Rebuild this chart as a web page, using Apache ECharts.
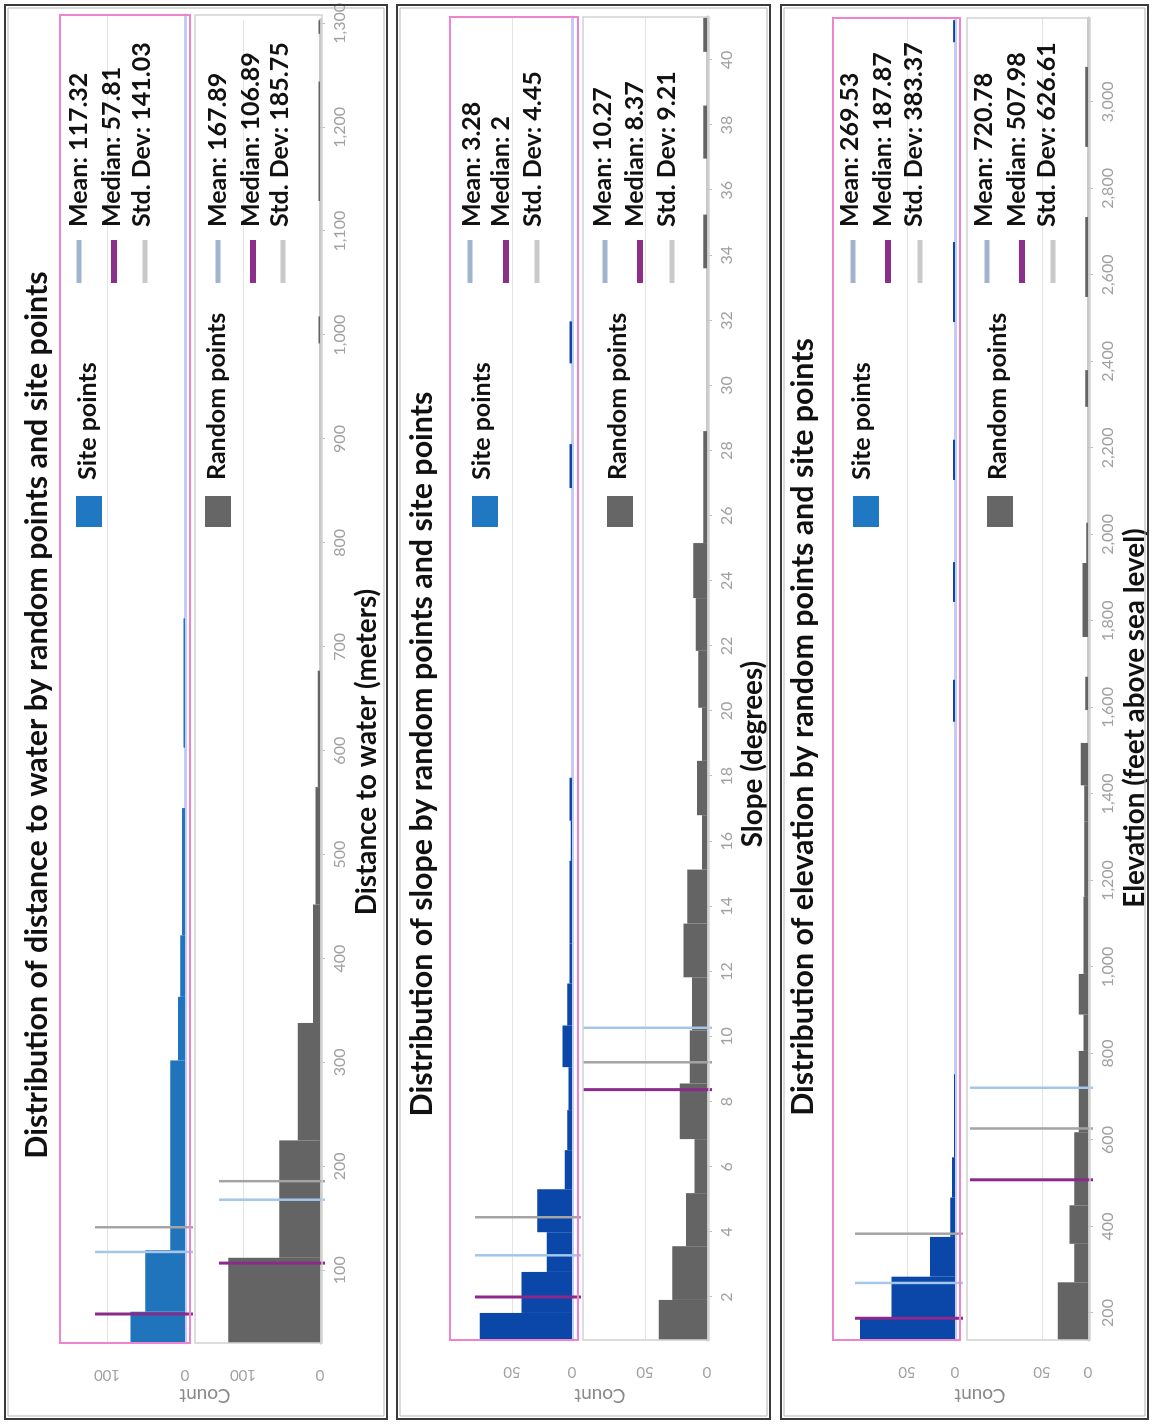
<!DOCTYPE html>
<html>
<head>
<meta charset="utf-8">
<script src="https://cdn.jsdelivr.net/npm/echarts@6/dist/echarts.min.js"></script>
<style>
  html, body { margin: 0; padding: 0; background: #fff; overflow: hidden; width: 1152px; height: 1424px; }
  /* The figure is laid out landscape and turned a quarter turn counter-clockwise onto the portrait page */
  #stage { position: absolute; left: 0; top: 0; width: 1424px; height: 1152px;
           transform-origin: 0 0; transform: translate(0px, 1424px) rotate(-90deg); background: #fff; }
</style>
</head>
<body>
<div id="stage"></div>
<script>
// ---------------- data ----------------
const panelTitles = [
  'Distribution of distance to water by random points and site points',
  'Distribution of slope by random points and site points',
  'Distribution of elevation by random points and site points'
];
const axisNames = ['Distance to water (meters)', 'Slope (degrees)', 'Elevation (feet above sea level)'];
const groupNames = ['Site points', 'Random points'];
const statNames = ['Mean', 'Median', 'Std. Dev'];

// histogram bins: [from, to, count]
const distSiteBins = [[30, 60, 70], [60, 119, 51], [119, 301, 19], [301, 362, 9], [362, 421, 6], [421, 543, 4], [601, 725, 2]];
const distRandBins = [[30, 112, 119], [112, 225, 53], [225, 338, 29], [338, 452, 9], [452, 565, 6], [565, 677, 3],
                      [992, 1018, 2], [1129, 1244, 2], [1290, 1303, 2]];
const distSiteStats = [117.32, 57.81, 141.03];   // mean, median, std. dev
const distRandStats = [167.89, 106.89, 185.75];
const distTicks = [100, 200, 300, 400, 500, 600, 700, 800, 900, 1000, 1100, 1200, 1300];
const distCountTicks = [0, 100];

const slopeSiteBins = [[0.68, 1.51, 77], [1.51, 2.77, 42], [2.77, 3.99, 21], [3.99, 5.31, 29], [5.31, 6.51, 6],
                       [6.51, 7.74, 4], [7.74, 9.06, 3], [9.06, 10.34, 8], [10.34, 11.63, 4], [11.63, 12.86, 2],
                       [12.86, 15.4, 2], [15.4, 16.63, 1], [16.63, 17.95, 2], [26.85, 28.2, 2], [30.68, 31.97, 2]];
const slopeRandBins = [[0.68, 1.91, 39], [1.91, 3.56, 28], [3.56, 5.19, 17], [5.19, 6.85, 10], [6.85, 8.56, 22],
                       [8.56, 10.19, 14], [10.19, 11.82, 12], [11.82, 13.47, 19], [13.47, 15.13, 16], [15.13, 16.8, 4],
                       [16.8, 18.47, 8], [18.47, 20.1, 4], [20.1, 21.85, 7], [21.85, 23.47, 9], [23.47, 25.16, 11],
                       [25.16, 28.6, 3], [33.6, 35.25, 3], [36.97, 38.6, 3], [40.25, 41.3, 3]];
const slopeSiteStats = [3.28, 2, 4.45];
const slopeRandStats = [10.27, 8.37, 9.21];
const slopeTicks = [2, 4, 6, 8, 10, 12, 14, 16, 18, 20, 22, 24, 26, 28, 30, 32, 34, 36, 38, 40];
const slopeCountTicks = [0, 50];

const elevSiteBins = [[137.6, 190.5, 99], [190.5, 284, 66], [284, 376, 26], [376, 467, 5], [467, 560, 3], [560, 752, 1],
                      [1567, 1664, 2], [1844, 1936, 2], [2126, 2219, 2], [2491, 2676, 2], [3138, 3189, 2]];
const elevRandBins = [[137.6, 271, 33], [271, 360, 15], [360, 449, 20], [449, 618, 15], [618, 806, 10], [806, 890, 5],
                      [890, 984, 10], [984, 1162, 5], [1162, 1336, 4], [1336, 1420, 4], [1420, 1518, 8],
                      [1594, 1671, 3], [1763, 1934, 6], [1934, 2027, 2], [2295, 2380, 3], [2549, 2734, 3], [2896, 3081, 3]];
const elevSiteStats = [269.53, 187.87, 383.37];
const elevRandStats = [720.78, 507.98, 626.61];
const elevTicks = [200, 400, 600, 800, 1000, 1200, 1400, 1600, 1800, 2000, 2200, 2400, 2600, 2800, 3000];
const elevCountTicks = [0, 50];

// ---------------- layout (landscape pixels) ----------------
const FONT = 'Lato, "Open Sans", sans-serif';
const STAT_LINE_COLORS = ['#a3c6ea', '#8b2a8b', '#a4a4a4'];
const STAT_LINE_WIDTHS = [2.5, 3, 2.5];
const STAT_SWATCH_COLORS = ['#a0b5cd', '#8b2f8b', '#c9c9c9'];
const STAT_SWATCH_WIDTHS = [5, 6, 5];

const LAYOUT = [
  { box: [5, 5, 1419, 387], title: [709, 37], name: [672, 367], countY: 205,
    plot: [81, 1409], xMin: 30, xMax: 1303.6, siteColor: '#1f74bb',
    site: { top: 60, base: 185, frame: 190, yMax: 160.3, lineTop: 95 },
    rand: { top: 195, base: 320, frame: 322, yMax: 162.3, lineTop: 219 },
    legSite: { sq: 89, text: 88, sw: [79, 114, 145], lab: [79, 112, 142] },
    legRand: { sq: 218, text: 217, sw: [218, 253, 283], lab: [218, 251, 280] } },
  { box: [5, 397, 1419, 770], title: [670, 422], name: [670, 753], countY: 600,
    plot: [84, 1407], xMin: 0.679, xMax: 41.32, siteColor: '#0a47a9',
    site: { top: 450, base: 572, frame: 578, yMax: 101.7, lineTop: 475 },
    rand: { top: 583, base: 707, frame: 709, yMax: 100, lineTop: 583 },
    legSite: { sq: 485, text: 482, sw: [470, 506, 537], lab: [472, 501, 533] },
    legRand: { sq: 620, text: 618, sw: [605, 640, 672], lab: [603, 635, 667] } },
  { box: [5, 781, 1419, 1148], title: [697, 803], name: [706, 1135], countY: 980,
    plot: [84, 1406], xMin: 137.6, xMax: 3194, siteColor: '#0a47a9',
    site: { top: 833, base: 955, frame: 960, yMax: 127, lineTop: 855 },
    rand: { top: 967, base: 1088, frame: 1090, yMax: 131.5, lineTop: 970 },
    legSite: { sq: 866, text: 862, sw: [853, 888, 920], lab: [850, 883, 914] },
    legRand: { sq: 1000, text: 998, sw: [987, 1022, 1053], lab: [984, 1017, 1047] } }
];

const panels = [
  { bins: [distSiteBins, distRandBins], stats: [distSiteStats, distRandStats], ticks: distTicks, counts: distCountTicks },
  { bins: [slopeSiteBins, slopeRandBins], stats: [slopeSiteStats, slopeRandStats], ticks: slopeTicks, counts: slopeCountTicks },
  { bins: [elevSiteBins, elevRandBins], stats: [elevSiteStats, elevRandStats], ticks: elevTicks, counts: elevCountTicks }
];

const grid = [], xAxis = [], yAxis = [], series = [], elements = [];

function txt(x, y, text, size, opts) {
  return Object.assign({
    type: 'text', x: x, y: y, z: 50,
    style: Object.assign({ text: text, fontSize: size, fontFamily: FONT, fontWeight: 'bold',
                           fill: '#111', align: 'left', verticalAlign: 'middle' }, (opts && opts.style) || {})
  }, (opts && opts.el) || {});
}

panels.forEach((p, i) => {
  const L = LAYOUT[i];
  const step = p.counts[1];

  ['site', 'rand'].forEach((key, j) => {
    const g = L[key];
    const gi = grid.length;
    const isSite = key === 'site';
    const barColor = isSite ? L.siteColor : '#646464';
    grid.push({ left: L.plot[0], top: g.top, width: L.plot[1] - L.plot[0], height: g.base - g.top });
    xAxis.push({
      type: 'value', gridIndex: gi, min: L.xMin, max: L.xMax,
      axisLine: { show: true, lineStyle: { color: isSite ? '#c5cbf3' : '#c9c9c9', width: 3 } },
      axisTick: { show: !isSite, customValues: p.ticks, length: 5, lineStyle: { color: '#bdbdbd' } },
      axisLabel: { show: !isSite, customValues: p.ticks, margin: 12, color: '#a0a0a0', fontSize: 16,
                   fontFamily: FONT, formatter: v => Number(v).toLocaleString('en-US') },
      splitLine: { show: false }
    });
    yAxis.push({
      type: 'value', gridIndex: gi, min: 0, max: g.yMax, interval: step,
      axisLine: { show: false },
      axisTick: { show: false, customValues: p.counts },
      axisLabel: { customValues: p.counts, rotate: 90, margin: 24, color: '#a0a0a0', fontSize: 15, fontFamily: FONT,
                   formatter: v => String(v) },
      splitLine: { show: true, lineStyle: { color: '#e3e3e3', width: 1 } }
    });

    // histogram bars
    series.push({
      type: 'custom', name: groupNames[j], xAxisIndex: gi, yAxisIndex: gi, data: p.bins[j],
      encode: { x: [0, 1], y: 2 }, clip: true, silent: true,
      renderItem: (params, api) => {
        const a = api.coord([api.value(0), api.value(2)]);
        const b = api.coord([api.value(1), 0]);
        return { type: 'rect', shape: { x: a[0], y: a[1], width: b[0] - a[0], height: b[1] - a[1] },
                 style: { fill: barColor } };
      }
    });
    // mean / median / std. dev markers
    series.push({
      type: 'custom', xAxisIndex: gi, yAxisIndex: gi, z: 5,
      data: p.stats[j].map((v, k) => [v, k]), encode: { x: 0, y: 1 }, clip: false, silent: true,
      renderItem: (params, api) => {
        const k = api.value(1);
        const x = api.coord([api.value(0), 0])[0];
        return { type: 'line', shape: { x1: x, y1: g.lineTop, x2: x, y2: g.frame + 3 },
                 style: { stroke: STAT_LINE_COLORS[k], lineWidth: STAT_LINE_WIDTHS[k] } };
      }
    });

    // plot frame
    elements.push({
      type: 'rect', z: 40, silent: true,
      shape: { x: L.plot[0], y: g.top, width: L.plot[1] - L.plot[0], height: g.frame - g.top },
      style: { fill: 'none', stroke: isSite ? '#ee84cf' : '#d2d2d2', lineWidth: isSite ? 2 : 1.5 }
    });

    // legend block
    const lg = isSite ? L.legSite : L.legRand;
    elements.push({ type: 'rect', z: 50, shape: { x: 897, y: lg.sq - 13, width: 31, height: 26 },
                    style: { fill: isSite ? '#1f78c1' : '#666666' } });
    elements.push(txt(944, lg.text, groupNames[j], 25));
    p.stats[j].forEach((v, k) => {
      const w = STAT_SWATCH_WIDTHS[k];
      elements.push({ type: 'rect', z: 50, shape: { x: 1141, y: lg.sw[k] - w / 2, width: 43, height: w },
                      style: { fill: STAT_SWATCH_COLORS[k] } });
      elements.push(txt(1197, lg.lab[k], statNames[k] + ': ' + v, 25));
    });
  });

  // panel border (double rule)
  const [bx0, by0, bx1, by1] = L.box;
  elements.push({ type: 'rect', z: 60, silent: true, shape: { x: bx0, y: by0, width: bx1 - bx0, height: by1 - by0 },
                  style: { fill: 'none', stroke: '#3a3a3a', lineWidth: 2 } });
  elements.push({ type: 'rect', z: 60, silent: true, shape: { x: bx0 + 3, y: by0 + 3, width: bx1 - bx0 - 6, height: by1 - by0 - 6 },
                  style: { fill: 'none', stroke: '#b4b4b4', lineWidth: 1 } });

  // titles and axis names
  elements.push(txt(L.title[0], L.title[1], panelTitles[i], 30.4, { style: { align: 'center' } }));
  elements.push(txt(L.name[0], L.name[1], axisNames[i], 27.8, { style: { align: 'center' } }));
  elements.push(txt(29, L.countY, 'Count', 19, {
    style: { align: 'center', fontWeight: 'normal', fill: '#8a8a8a' },
    el: { rotation: Math.PI / 2 }
  }));
});

const chart = echarts.init(document.getElementById('stage'), null, { renderer: 'canvas', width: 1424, height: 1152 });
chart.setOption({
  animation: false,
  backgroundColor: '#ffffff',
  grid: grid,
  xAxis: xAxis,
  yAxis: yAxis,
  series: series,
  graphic: { elements: elements }
});
</script>
</body>
</html>
